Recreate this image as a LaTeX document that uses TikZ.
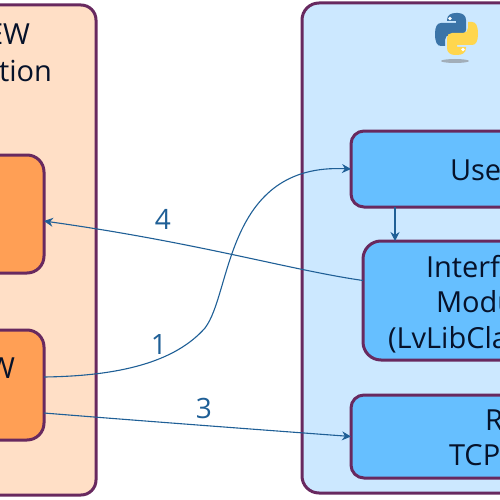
\documentclass[tikz,border=0pt]{standalone}
\usepackage{fontspec}
\setmainfont{Open Sans}
\usetikzlibrary{arrows.meta}
\definecolor{edgeP}{HTML}{68295F}
\definecolor{peach}{HTML}{FFDFC6}
\definecolor{orng}{HTML}{FF9F55}
\definecolor{paleB}{HTML}{CCE8FF}
\definecolor{midB}{HTML}{66BFFF}
\definecolor{arrowB}{HTML}{1F5F96}
\definecolor{txtD}{HTML}{06122A}
\definecolor{pyB}{HTML}{3B74A8}
\definecolor{pyY}{HTML}{FFD64E}
\tikzset{
  box/.style={draw=edgeP,line width=3pt,rectangle,rounded corners=#1,inner sep=0pt,outer sep=0pt,anchor=north west},
  box/.default=15pt,
  txt/.style={font=\fontsize{29}{30}\selectfont,text=txtD,inner sep=0pt,outer sep=0pt,anchor=base west},
  txr/.style={txt,anchor=base east},
  num/.style={font=\fontsize{28}{29}\selectfont,text=arrowB,inner sep=0pt},
  link/.style={draw=arrowB,line width=1.1pt,-{Stealth[length=9pt,width=9pt]}}
}
\newcommand{\pyhalf}{(447,20) .. controls (447,15) and (451,13) .. (456,13) -- (458,13) .. controls (463,13) and (466,16) .. (466,20) -- (466,30) .. controls (466,33) and (464,35) .. (461,35) -- (450,35) .. controls (447,35) and (445,37) .. (445,40) -- (445,46) -- (441,46) .. controls (437,46) and (435,42) .. (435,34) .. controls (435,27) and (437,23) .. (441,23) -- (456,23) -- (456,21) -- (447,21) -- cycle}
\begin{document}
\begin{tikzpicture}[x=1pt,y=-1pt]
\useasboundingbox (0,0) rectangle (500,500);
\clip (0,0) rectangle (500,500);
% left panel
\node[box=15pt,fill=peach,minimum width=196pt,minimum height=490pt] (lvPanel) at (-100,5) {};
\node[box=17pt,fill=orng,minimum width=144pt,minimum height=118pt] (lvTop) at (-100,155) {};
\node[box=17pt,fill=orng,minimum width=144pt,minimum height=110pt] (lvBot) at (-100,330) {};
\node[txr] (t1) at (30,45) {EW};
\node[txr] (t2) at (52,82) {tion};
\node[txr] (t3) at (15,378) {W};
% right panel
\node[box=17pt,fill=paleB,minimum width=320pt,minimum height=490pt] (pyPanel) at (302,3) {};
\node[box=13pt,fill=midB,minimum width=270pt,minimum height=76pt] (user) at (351,131) {};
\node[box=18pt,fill=midB,minimum width=260pt,minimum height=119pt] (iface) at (363,241) {};
\node[box=13pt,fill=midB,minimum width=270pt,minimum height=83pt] (rpc) at (351,395) {};
\node[txt] (t4) at (450,180) {Use};
\node[txt] (t5) at (426,277) {Interf};
\node[txt] (t6) at (436,312) {Modu};
\node[txt] (t7) at (388,348) {(LvLibCla};
\node[txt] (t8) at (485,430) {R};
\node[txt] (t9) at (449,465) {TCP};
% python logo
\fill[gray!55!paleB] (455,61) ellipse (14pt and 2pt);
\fill[pyB] \pyhalf;
\begin{scope}[rotate around={180:(456.5,34)}]
\fill[pyY] \pyhalf;
\fill[white] (450,18.5) circle (1.8pt);
\end{scope}
\fill[white] (450,18.5) circle (1.8pt);
% connectors
\draw[link] ([yshift=8pt]lvBot.east) .. controls (120,376) and (175,362) .. (205,328) .. controls (232,293) and (225,163) .. (user.west);
\draw[link] ([yshift=-28pt]lvBot.east) .. controls (130,420) and (250,429) .. (rpc.west);
\draw[link] ([yshift=20pt]iface.west) .. controls (290,270) and (200,243) .. ([yshift=-7pt]lvTop.east);
\draw[link] (user.south west -| 395,207) -- (iface.north west -| 395,241);
% labels
\node[num] (n4) at (163,219) {4};
\node[num] (n1) at (159,345) {1};
\node[num] (n3) at (204,408) {3};
\end{tikzpicture}
\end{document}
